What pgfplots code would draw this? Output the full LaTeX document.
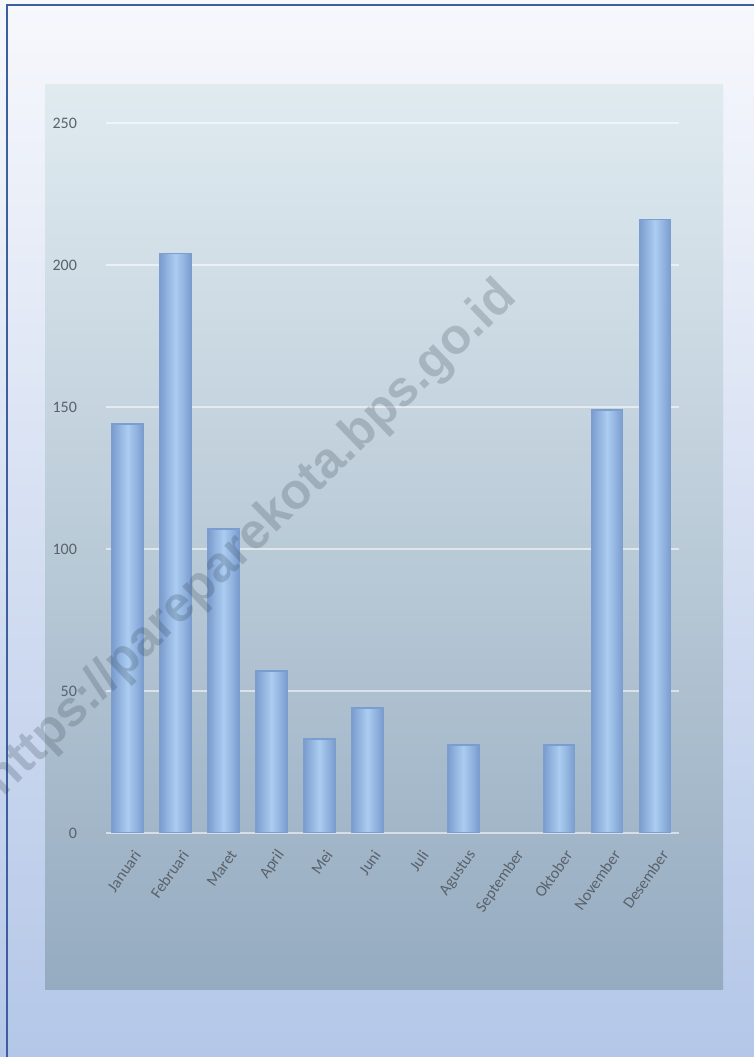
\documentclass[border=0pt]{standalone}
\usepackage{pgfplots}
\pgfplotsset{compat=1.18}
\usepackage{fontspec}
\setmainfont{Carlito}
\newfontfamily\wmfont{Liberation Sans}
\usepackage{xcolor}
\definecolor{frameblue}{HTML}{3F5E9E}
\definecolor{pagetop}{HTML}{F7F8FC}
\definecolor{pagebot}{HTML}{B4C7E8}
\definecolor{paneltop}{HTML}{E0EBF0}
\definecolor{panelmid}{HTML}{CBDAE3}
\definecolor{panelbot}{HTML}{95ABC0}
\definecolor{baredge}{HTML}{7B9DCF}
\definecolor{barmid}{HTML}{ABCDF1}
\definecolor{ticktext}{HTML}{5A626B}
\definecolor{wmgray}{HTML}{2E3C4A}

% one bar per month, each shaded on its own
\pgfplotsset{monthbar/.style={ybar, bar shift=0pt, draw=baredge, line width=0.8pt,
    left color=baredge, right color=baredge, middle color=barmid}}

\begin{document}
\begin{tikzpicture}
% page area 754 x 1057 px at 0.5pt per px
\useasboundingbox (0,0) rectangle (377pt,528.5pt);
\shade[top color=pagetop, bottom color=pagebot] (0,0) rectangle (377pt,528.5pt);
\draw[frameblue, line width=1pt] (3.5pt,0) -- (3.5pt,526pt) -- (377pt,526pt);
% photo panel behind the chart
\shade[top color=paneltop, middle color=panelmid, bottom color=panelbot]
  (22.5pt,33.5pt) rectangle (361.5pt,486pt);

\begin{axis}[
    at={(53pt,112pt)}, anchor=south west,
    scale only axis,
    width=286.5pt, height=355pt,
    xmin=-0.45, xmax=11.5,
    ymin=0, ymax=250,
    ytick={0,50,100,150,200,250},
    xtick={0,...,11},
    xticklabels={Januari, Februari, Maret, April, Mei, Juni, Juli, Agustus, September, Oktober, November, Desember},
    axis line style={draw=none},
    major tick style={draw=none},
    ymajorgrids,
    major grid style={draw=white, opacity=0.55, line width=0.9pt},
    tick label style={font=\fontsize{8}{9}\selectfont, text=ticktext},
    /pgf/number format/assume math mode=true,
    yticklabel style={xshift=-11pt},
    xticklabel style={rotate=55, anchor=east, xshift=2pt, yshift=-7pt},
    ybar, bar width=15.5pt,
]
\addplot[monthbar] coordinates {(0, 144)};  % Januari
\addplot[monthbar] coordinates {(1, 204)};  % Februari
\addplot[monthbar] coordinates {(2, 107)};  % Maret
\addplot[monthbar] coordinates {(3, 57)};   % April
\addplot[monthbar] coordinates {(4, 33)};   % Mei
\addplot[monthbar] coordinates {(5, 44)};   % Juni
\addplot[monthbar, draw=none] coordinates {(6, 0)};  % Juli
\addplot[monthbar] coordinates {(7, 31)};   % Agustus
\addplot[monthbar, draw=none] coordinates {(8, 0)};  % September
\addplot[monthbar] coordinates {(9, 31)};   % Oktober
\addplot[monthbar] coordinates {(10, 149)}; % November
\addplot[monthbar] coordinates {(11, 216)}; % Desember
\end{axis}

% watermark
\node[rotate=44, text=wmgray, opacity=0.22, font=\wmfont\bfseries\fontsize{25}{28}\selectfont]
  at (126pt,259pt) {https://pareparekota.bps.go.id};
\end{tikzpicture}
\end{document}
